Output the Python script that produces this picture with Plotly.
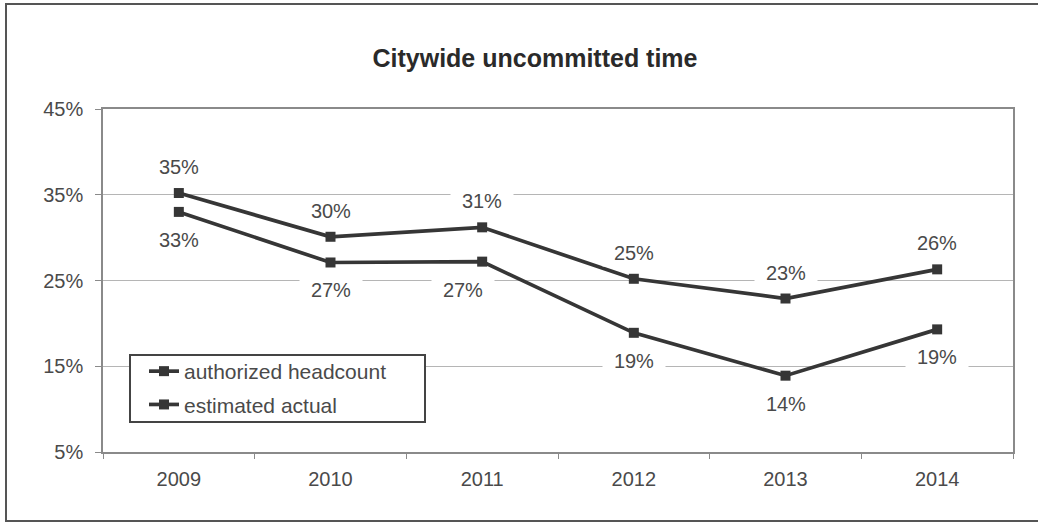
import plotly.graph_objects as go

years = ["2009", "2010", "2011", "2012", "2013", "2014"]
authorized = [35.2, 30.1, 31.2, 25.2, 22.9, 26.3]
estimated = [33.0, 27.1, 27.2, 18.9, 13.9, 19.3]
series_names = ["authorized headcount", "estimated actual"]
y_ticks = [5, 15, 25, 35, 45]
title_text = "Citywide uncommitted time"

W, H = 1038, 523
ML, MR, MT, MB = 103, 25, 109, 71
PW, PH = W - ML - MR, H - MT - MB

def px_x(x):
    return (x - ML) / PW

def px_y(y):
    return (H - MB - y) / PH

FONT = "Liberation Sans, Arial, sans-serif"
TXT = "#4a4a4a"
LINE = "#363636"

fig = go.Figure()
for i, (name, vals) in enumerate(zip(series_names, [authorized, estimated])):
    fig.add_trace(go.Scatter(
        x=years, y=vals, name=name, mode="lines+markers",
        line=dict(color=LINE, width=3.7),
        marker=dict(symbol="square", size=10, color=LINE),
        legendgroup=f"g{i}",
    ))

annotations = []
for i, v in enumerate(authorized):
    annotations.append(dict(x=i, y=v, xref="x", yref="y", text=f"{round(v)}%",
                            showarrow=False, yshift=26, bgcolor="white", width=60, height=24,
                            font=dict(family=FONT, size=20, color=TXT)))
for i, v in enumerate(estimated):
    annotations.append(dict(x=i, y=v, xref="x", yref="y", text=f"{round(v)}%",
                            showarrow=False, yshift=-28, xshift=(-19 if i == 2 else 0),
                            bgcolor="white", width=60, height=24,
                            font=dict(family=FONT, size=20, color=TXT)))

xl, xr = px_x(6), px_x(1060)
yt, yb = px_y(4), px_y(521)
shapes = [
    # outer chart border (open on the right, which is cut off in the original)
    dict(type="path", xref="paper", yref="paper",
         path=f"M {xr},{yt} L {xl},{yt} L {xl},{yb} L {xr},{yb}",
         line=dict(color="#555555", width=2), layer="below"),
    # legend box
    dict(type="rect", xref="paper", yref="paper",
         x0=px_x(130), x1=px_x(425), y0=px_y(422), y1=px_y(355),
         line=dict(color="#444444", width=2), fillcolor="white", layer="above"),
]

fig.update_layout(
    width=W, height=H,
    margin=dict(l=ML, r=MR, t=MT, b=MB),
    paper_bgcolor="white", plot_bgcolor="white",
    font=dict(family=FONT, size=20, color=TXT),
    title=dict(text=f"<b>{title_text}</b>", x=535 / W, xanchor="center",
               y=1 - 58 / H, yanchor="middle",
               font=dict(family=FONT, size=25, color="#2a2a2a")),
    xaxis=dict(type="category", range=[-0.5, 5.5], showgrid=False,
               showline=True, linecolor="#8a8a8a", linewidth=1.5, mirror=True,
               ticks="outside", tickson="boundaries", ticklen=5, tickcolor="#8a8a8a",
               ticklabelstandoff=8,
               tickfont=dict(family=FONT, size=20, color=TXT), zeroline=False),
    yaxis=dict(range=[5, 45], tickvals=y_ticks, ticktext=[f"{t}%" for t in y_ticks],
               showgrid=True, gridcolor="#b5b5b5", gridwidth=1.2,
               showline=True, linecolor="#8a8a8a", linewidth=1.5, mirror=True,
               ticks="outside", ticklen=6, tickcolor="#8a8a8a",
               ticklabelstandoff=8,
               tickfont=dict(family=FONT, size=20, color=TXT), zeroline=False),
    legend=dict(x=px_x(144), y=px_y(351), xanchor="left", yanchor="top",
                bgcolor="rgba(0,0,0,0)", borderwidth=0, tracegroupgap=3,
                font=dict(family=FONT, size=21, color=TXT)),
    annotations=annotations,
    shapes=shapes,
    showlegend=True,
)

fig.write_html("out.html", post_script="document.body.style.margin='0';",
               config={"displayModeBar": False})
